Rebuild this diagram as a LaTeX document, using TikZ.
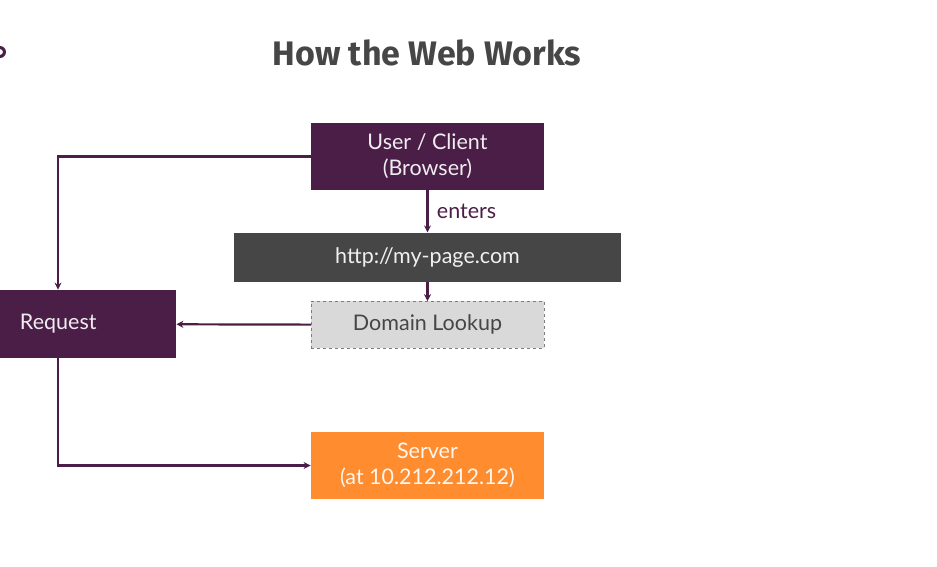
\documentclass[tikz,border=0pt]{standalone}
\usepackage{fontspec}
\setmainfont{Lato}
\newfontfamily\titlefont{Fira Sans}
\usetikzlibrary{positioning,arrows.meta}

\definecolor{webpurple}{HTML}{4A1E47}
\definecolor{webgray}{HTML}{464646}
\definecolor{weblight}{HTML}{D9D9D9}
\definecolor{weborange}{HTML}{FF8C2F}

\begin{document}
\begin{tikzpicture}[x=1pt,y=-1pt,>={Stealth[length=7pt,width=7pt]},thick,node distance=19pt,
  box/.style={rectangle,minimum width=233pt,minimum height=67pt,inner sep=0pt,align=center,font=\fontsize{21.5}{26}\selectfont},
  client/.style={box,fill=webpurple,text=white!92!webpurple},
  url/.style={box,fill=webgray,text=white!92!webgray,minimum width=387pt,minimum height=49pt},
  lookup/.style={box,fill=weblight,draw=webgray!70,dashed,thin,text=webgray,minimum height=47pt},
  server/.style={box,fill=weborange,text=white!92!weborange},
  link/.style={->,draw=webpurple,line width=2.2pt}]
\useasboundingbox (0,0) rectangle (937,566);
\node[font=\titlefont\bfseries\fontsize{34}{40}\selectfont,text=webgray] (title) at (427,53) {How the Web Works};
% cut-off logo at the left edge
\fill[webpurple] (0,46) arc[start angle=90,end angle=-90,radius=6pt] -- (0,55) arc[start angle=-90,end angle=90,radius=3pt] -- cycle;
\node[client] (user) at (427.5,156.5) {User / Client\\(Browser)};
\node[url] (page) [below=42pt of user] {http://my-page.com};
\node[lookup] (dns) [below=of page] {Domain Lookup};
\node[client,minimum width=236pt,minimum height=68pt,text width=236pt,align=left] (req) at (58,324) {\hspace{80pt}Request};
\node[server] (srv) at (427.5,465.5) {Server\\(at 10.212.212.12)};

\path[link] (user) edge node[right,text=webpurple,font=\fontsize{21.5}{26}\selectfont,xshift=5pt] {enters} (page)
(page) edge (dns)
(dns) edge (req);
\draw[link] (user.west) -| (req.north);
\draw[link] (req.south) |- (srv.west);
\end{tikzpicture}
\end{document}
